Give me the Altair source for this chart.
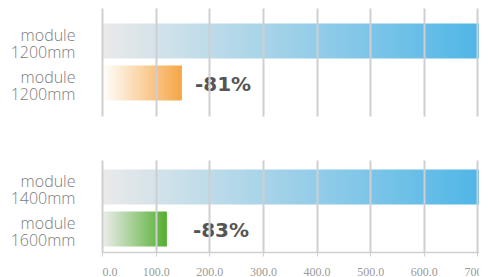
import altair as alt
import pandas as pd

rows = [0, 1, 2, 3]
panels = ["top", "top", "bottom", "bottom"]
kinds = ["blue", "orange", "blue", "green"]
row_labels = ["module|1200mm", "module|1200mm", "module|1400mm", "module|1600mm"]
values = [716, 149, 716, 121]
pct_rows = [1, 3]
pct_text = ["-81%", "-83%"]
x_ticks = [0, 100, 200, 300, 400, 500, 600, 700]
x_max = 716

df = pd.DataFrame({"row": rows, "panel": panels, "kind": kinds, "value": values})
pct_df = pd.DataFrame({"row": pct_rows, "text": pct_text,
                       "value": [values[r] for r in pct_rows]})


def grad(c0, c1):
    return alt.Gradient(
        gradient="linear",
        stops=[alt.GradientStop(color=c0, offset=0), alt.GradientStop(color=c1, offset=1)],
        x1=0, x2=1, y1=0, y2=0,
    )


label_expr = "split([" + ",".join(f"'{l}'" for l in row_labels) + "][datum.value], '|')"

GRID = "#cfcfcf"
W = 384


def panel(name, other_kind, other_grad, text_row, text_dx, height, pad_outer, align, x_axis):
    y = alt.Y("row:O", title=None,
              scale=alt.Scale(paddingInner=0.1667, paddingOuter=pad_outer, align=align),
              axis=alt.Axis(labelExpr=label_expr, ticks=False, domain=False, grid=False,
                            labelFont="Open Sans", labelFontSize=16, labelFontWeight=300,
                            labelColor="#7c7c7c", labelPadding=27, labelLineHeight=17,
                            labelOffset=-5, labelBaseline="middle"))
    x = alt.X("value:Q", title=None, scale=alt.Scale(domain=[0, x_max], nice=False, zero=True),
              axis=x_axis)
    base = alt.Chart(df).transform_filter(alt.datum.panel == name)
    blue = base.transform_filter(alt.datum.kind == "blue").mark_bar(
        color=grad("#eaeaea", "#4db5e7")).encode(x=x, y=y)
    other = base.transform_filter(alt.datum.kind == other_kind).mark_bar(
        color=other_grad).encode(x=x, y=y)
    text = alt.Chart(pct_df).transform_filter(alt.datum.row == text_row).mark_text(
        font="DejaVu Sans", fontWeight="bold", fontSize=20, color="#555555",
        align="left", baseline="middle", dx=text_dx, dy=2).encode(x=x, y=y, text="text:N")
    return alt.layer(blue, other, text).properties(width=W, height=height)


top_axis = alt.Axis(values=x_ticks, grid=True, labels=False, ticks=False, domain=False,
                    gridColor=GRID, gridWidth=2, zindex=1)
bottom_axis = alt.Axis(values=x_ticks, grid=True, format=".1f", gridColor=GRID, gridWidth=2,
                       domainColor=GRID, domainWidth=1.5, tickColor=GRID, tickSize=4,
                       labelFont="Liberation Sans Narrow", labelFontSize=12,
                       labelColor="#9a9a9a", labelPadding=10, zindex=1)

top = panel("top", "orange", grad("#ffffff", "#f5a646"), 1, 13, 108, 0.369, 0.5, top_axis)
bottom = panel("bottom", "green", grad("#eeeeee", "#53ae30"), 3, 26, 92, 0.179, 0.63, bottom_axis)

chart = alt.vconcat(top, bottom, spacing=44).properties(
    padding={"left": 2, "top": 0, "right": -12, "bottom": 0},
).configure_view(stroke=None)

chart.save("out.html", embed_options={"renderer": "svg", "actions": False})
